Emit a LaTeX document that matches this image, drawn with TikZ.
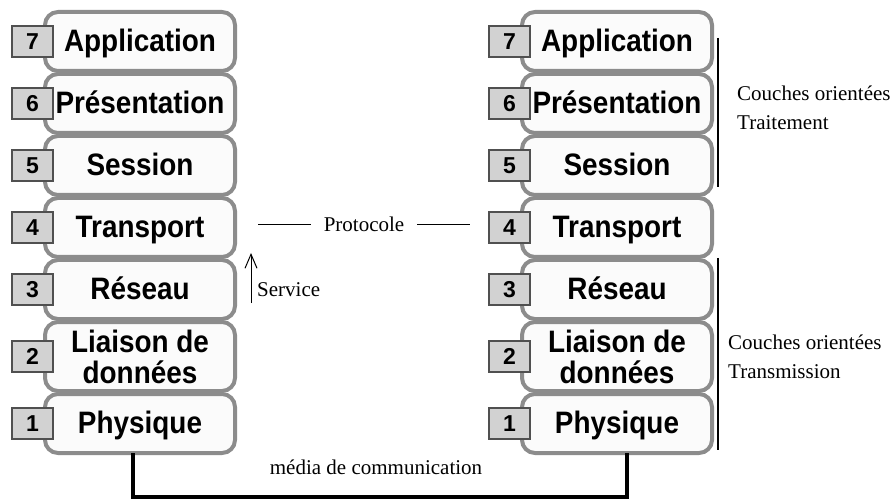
\documentclass[tikz,border=0pt]{standalone}
\usepackage{fontspec}
\setmainfont{Liberation Serif}
\setsansfont{Liberation Sans}
\newfontfamily\layerfont{Liberation Sans}[FakeStretch=0.9]
\usepackage{xcolor}
\usetikzlibrary{positioning, arrows.meta, calc}
\definecolor{cLayer}{HTML}{8C8C8C}
\definecolor{cFill}{HTML}{FBFBFB}
\definecolor{cNum}{HTML}{D2D2D2}
\definecolor{cNumBorder}{HTML}{505050}
\tikzset{
  layer/.style={
    rectangle, rounded corners=13pt,
    minimum width=190pt, minimum height=#1,
    align=center, font=\layerfont\bfseries\fontsize{31}{31}\selectfont,
    text height=20pt, text depth=0pt,
    draw=cLayer, fill=cFill, line width=4pt,
    outer sep=0pt, inner sep=0pt
  },
  layer/.default=59pt,
  num/.style={
    rectangle, minimum width=41pt, minimum height=31pt,
    font=\sffamily\bfseries\fontsize{23}{24}\selectfont,
    draw=cNumBorder, fill=cNum, line width=1.4pt,
    outer sep=0pt, inner sep=0pt
  },
  note/.style={
    font=\fontsize{21}{29}\selectfont,
    align=left, inner sep=0pt
  },
  lbl/.style={
    font=\fontsize{21}{24}\selectfont, inner sep=0pt
  },
  bracket/.style={line width=2pt},
  media/.style={line width=4.5pt, line join=miter}
}

\begin{document}
\begin{tikzpicture}[x=1pt, y=-1pt, node distance=3pt]

\fill[white] (0,0) rectangle (893,502);
\useasboundingbox (0,0) rectangle (893,502);

%% ── Left stack ───────────────────────────────────────────────────

\node[layer] (l7) at (140,41.5) {Application};
\node[layer, below=of l7] (l6) {Présentation};
\node[layer, below=of l6] (l5) {Session};
\node[layer, below=of l5] (l4) {Transport};
\node[layer, below=of l4] (l3) {Réseau};
\node[layer=69pt, text height=, text depth=, below=of l3] (l2) {Liaison de\\données};
\node[layer, below=of l2] (l1) {Physique};

% layer numbers
\node[num, left=-8pt of l7] (ln7) {7};
\node[num, left=-8pt of l6] (ln6) {6};
\node[num, left=-8pt of l5] (ln5) {5};
\node[num, left=-8pt of l4] (ln4) {4};
\node[num, left=-8pt of l3] (ln3) {3};
\node[num, left=-8pt of l2] (ln2) {2};
\node[num, left=-8pt of l1] (ln1) {1};

%% ── Right stack ──────────────────────────────────────────────────

\node[layer] (r7) at (617,41.5) {Application};
\node[layer, below=of r7] (r6) {Présentation};
\node[layer, below=of r6] (r5) {Session};
\node[layer, below=of r5] (r4) {Transport};
\node[layer, below=of r4] (r3) {Réseau};
\node[layer=69pt, text height=, text depth=, below=of r3] (r2) {Liaison de\\données};
\node[layer, below=of r2] (r1) {Physique};

% layer numbers
\node[num, left=-8pt of r7] (rn7) {7};
\node[num, left=-8pt of r6] (rn6) {6};
\node[num, left=-8pt of r5] (rn5) {5};
\node[num, left=-8pt of r4] (rn4) {4};
\node[num, left=-8pt of r3] (rn3) {3};
\node[num, left=-8pt of r2] (rn2) {2};
\node[num, left=-8pt of r1] (rn1) {1};

%% ── Protocole / Service ──────────────────────────────────────────

\node[lbl, inner xsep=13pt] (proto) at ($(l4.east)!0.5!(rn4.west)+(2,-3)$) {Protocole};
\coordinate (pa) at ($(l4.east)+(23,-3)$);
\coordinate (pb) at ($(rn4.west)+(-19,-3)$);
\draw[line width=1pt] (pa) -- (proto.west);
\draw[line width=1pt] (proto.east) -- (pb);

\coordinate (sa) at ($(l3.north east)+(16,43)$);
\coordinate (sb) at ($(l3.north east)+(16,-7)$);
\draw[-{Straight Barb[length=14pt, width=12pt]}, line width=1pt] (sa) -- (sb);
\node[lbl, anchor=west] (serv) at ($(l3.north east)+(22,30)$) {Service};

%% ── Brackets ─────────────────────────────────────────────────────

\coordinate (ta) at ($(r7.north east)+(6,26)$);
\coordinate (tb) at ($(r5.south east)+(6,-8)$);
\draw[bracket] (ta) -- (tb);
\node[note, anchor=west] (trait) at (737,108) {Couches orientées\\Traitement};

\coordinate (ma) at ($(r3.north east)+(6,-2)$);
\coordinate (mb) at ($(r1.south east)+(6,-3)$);
\draw[bracket] (ma) -- (mb);
\node[note, anchor=west] (trans) at (728,357) {Couches orientées\\Transmission};

%% ── Media ────────────────────────────────────────────────────────

\coordinate (m0) at ($(l1.south)+(-7,0)$);
\coordinate (m1) at ($(r1.south)+(10,0)$);
\draw[media] (m0) -- ++(0,44) -| (m1);
\node[lbl] (medlbl) at (376,467) {média de communication};

\end{tikzpicture}
\end{document}
